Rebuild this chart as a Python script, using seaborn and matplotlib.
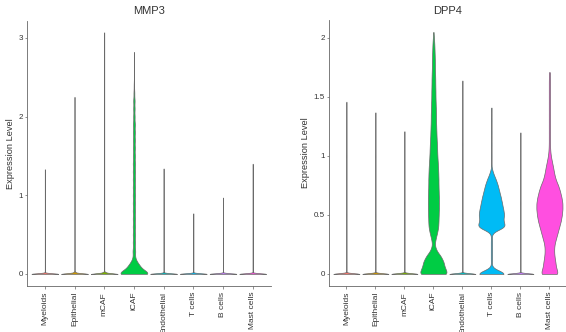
import numpy as np
import pandas as pd
import matplotlib
matplotlib.use("Agg")
import matplotlib.pyplot as plt
import seaborn as sns

# ---------------- data ----------------
cell_types = ["Myeloids", "Epithelial", "mCAF", "iCAF", "Endothelial",
              "T cells", "B cells", "Mast cells"]
genes = ["MMP3", "DPP4"]

mmp3_levels = [
    [0, 0.35, 0.7, 1.0, 1.33],
    [0, 0.02, 0.5, 1.0, 1.5, 1.9, 2.25],
    [0, 0.02, 0.6, 1.2, 1.8, 2.4, 3.07],
    [0, 0.05, 0.1, 0.15, 0.2, 0.25, 0.3, 0.4, 0.5, 0.6, 0.7, 0.8, 0.9, 1.0,
     1.1, 1.2, 1.3, 1.4, 1.5, 1.6, 1.7, 1.8, 1.9, 2.0, 2.1, 2.2, 2.3, 2.4,
     2.5, 2.6, 2.7, 2.82],
    [0, 0.4, 0.9, 1.34],
    [0, 0.4, 0.77],
    [0, 0.5, 0.97],
    [0, 0.5, 1.0, 1.40],
]
mmp3_counts = [
    [2000, 1, 1, 1, 1],
    [2000, 150, 1, 1, 1, 1, 1],
    [2000, 200, 1, 1, 1, 1, 1],
    [860, 300, 260, 120, 50, 30, 80, 80, 80, 80, 80, 80, 80, 80,
     80, 80, 80, 80, 70, 70, 70, 70, 70, 50, 50, 50, 30, 15,
     2, 2, 2, 2],
    [2000, 1, 1, 1],
    [2000, 1, 1],
    [2000, 1, 1],
    [2000, 1, 1, 1],
]

dpp4_levels = [
    [0, 0.5, 1.0, 1.46],
    [0, 0.5, 1.0, 1.37],
    [0, 0.6, 1.21],
    [0, 0.05, 0.1, 0.15, 0.2, 0.25, 0.3, 0.35, 0.4, 0.45, 0.5, 0.55, 0.6,
     0.65, 0.7, 0.75, 0.8, 0.85, 0.9, 0.95, 1.0, 1.05, 1.1, 1.15, 1.2, 1.25,
     1.3, 1.35, 1.4, 1.45, 1.5, 1.55, 1.6, 1.65, 1.7, 1.75, 1.8, 1.85, 1.9,
     1.95, 2.0, 2.05],
    [0, 0.5, 1.1, 1.64],
    [0, 0.1, 0.15, 0.2, 0.25, 0.3, 0.4, 0.45, 0.5, 0.55, 0.6, 0.65, 0.7,
     0.75, 0.8, 0.85, 0.9, 1.0, 1.1, 1.2, 1.3, 1.41],
    [0, 0.6, 1.2],
    [0, 0.05, 0.1, 0.15, 0.2, 0.25, 0.3, 0.35, 0.4, 0.45, 0.5, 0.55, 0.6,
     0.65, 0.7, 0.75, 0.8, 0.85, 0.9, 0.95, 1.0, 1.05, 1.1, 1.15, 1.2, 1.25,
     1.3, 1.35, 1.4, 1.45, 1.5, 1.55, 1.6, 1.65, 1.71],
]
dpp4_counts = [
    [2000, 1, 1, 1],
    [2000, 1, 1, 1],
    [2000, 1, 1],
    [82, 60, 55, 40, 15, 6, 12, 20, 26, 27, 28, 29, 29,
     29, 28, 27, 27, 26, 25, 23, 21, 20, 19, 17, 16, 15,
     14, 14, 13, 12, 11, 11, 10, 10, 9, 8, 8, 7, 6,
     5, 3, 1],
    [2000, 1, 1, 1],
    [92, 3, 3, 3, 3, 3, 78, 58, 66, 60, 54, 48, 40,
     33, 23, 10, 1, 1, 1, 1, 1, 1],
    [2000, 1, 1],
    [47, 33, 30, 25, 23, 25, 33, 41, 49, 57, 62, 65, 65,
     60, 53, 44, 31, 24, 19, 13, 7, 4, 3, 3, 3, 3,
     3, 3, 3, 3, 3, 3, 3, 3, 3],
]

# ---------------- style ----------------
fill_colors = ["#F8766D", "#CD9600", "#7CAE00", "#00CC44",
               "#00BFC4", "#00BBF5", "#C77CFF", "#FF4FE0"]
mmp3_bw = [0.008, 0.008, 0.008, 0.04, 0.008, 0.008, 0.008, 0.008]
dpp4_bw = [0.006, 0.006, 0.006, 0.03, 0.006, 0.03, 0.006, 0.03]


def fixed_bw(h):
    def f(kde):
        sd = np.std(kde.dataset[0], ddof=1)
        return h / sd
    return f


def make_frame(levels, counts):
    rows = []
    for cell, lv, ct in zip(cell_types, levels, counts):
        vals = np.repeat(np.asarray(lv, float), np.asarray(ct, int))
        rows.append(pd.DataFrame({"cell": cell, "value": vals}))
    return pd.concat(rows, ignore_index=True)


plt.rcParams["font.family"] = ["Liberation Sans", "DejaVu Sans"]
text_col = "#333333"
line_col = "#666666"

fig = plt.figure(figsize=(5.66, 3.32), dpi=100)
W, H = 566.0, 332.0
ax1 = fig.add_axes([27 / W, 1 - 286 / H, (270.5 - 27) / W, (286 - 20.5) / H])
ax2 = fig.add_axes([329 / W, 1 - 286 / H, (566.8 - 329) / W, (286 - 20) / H])

panels = [
    (ax1, genes[0], mmp3_levels, mmp3_counts, mmp3_bw, (-0.154, 3.22),
     [0, 1, 2, 3], ["0", "1", "2", "3"], -0.049),
    (ax2, genes[1], dpp4_levels, dpp4_counts, dpp4_bw, (-0.1025, 2.1525),
     [0, 0.5, 1, 1.5, 2], ["0", "0.5", "1", "1.5", "2"], -0.080),
]

for ax, gene, levels, counts, bws, ylim, yt, ytl, ylx in panels:
    df = make_frame(levels, counts)
    for i, cell in enumerate(cell_types):
        sub = df[df["cell"] == cell]
        sns.violinplot(data=sub, x="cell", y="value", order=cell_types,
                       color=fill_colors[i], saturation=1,
                       density_norm="width", cut=0, inner=None, width=0.9,
                       linewidth=0.5, linecolor="#6a6a6a",
                       bw_method=fixed_bw(bws[i]), gridsize=400, ax=ax)
    ax.set_xlim(-0.6, 7.6)
    ax.set_ylim(*ylim)
    ax.set_yticks(yt)
    ax.set_yticklabels(ytl)
    ax.set_xlabel("")
    ax.set_ylabel("Expression Level", fontsize=6.7, color=text_col)
    ax.yaxis.set_label_coords(ylx, 0.5)
    ax.set_title(gene, fontsize=8, color=text_col, pad=4.5)
    ax.tick_params(axis="x", labelrotation=90, labelsize=6, length=1.8,
                   width=0.5, pad=2.5, colors=line_col, labelcolor=text_col)
    ax.tick_params(axis="y", labelsize=5.8, length=1.8, width=0.5, pad=1,
                   colors=line_col, labelcolor=text_col)
    for s in ["top", "right"]:
        ax.spines[s].set_visible(False)
    for s in ["left", "bottom"]:
        ax.spines[s].set_color(line_col)
        ax.spines[s].set_linewidth(0.6)
    ax.set_facecolor("white")

fig.savefig("out.png", dpi=100, facecolor="white")
